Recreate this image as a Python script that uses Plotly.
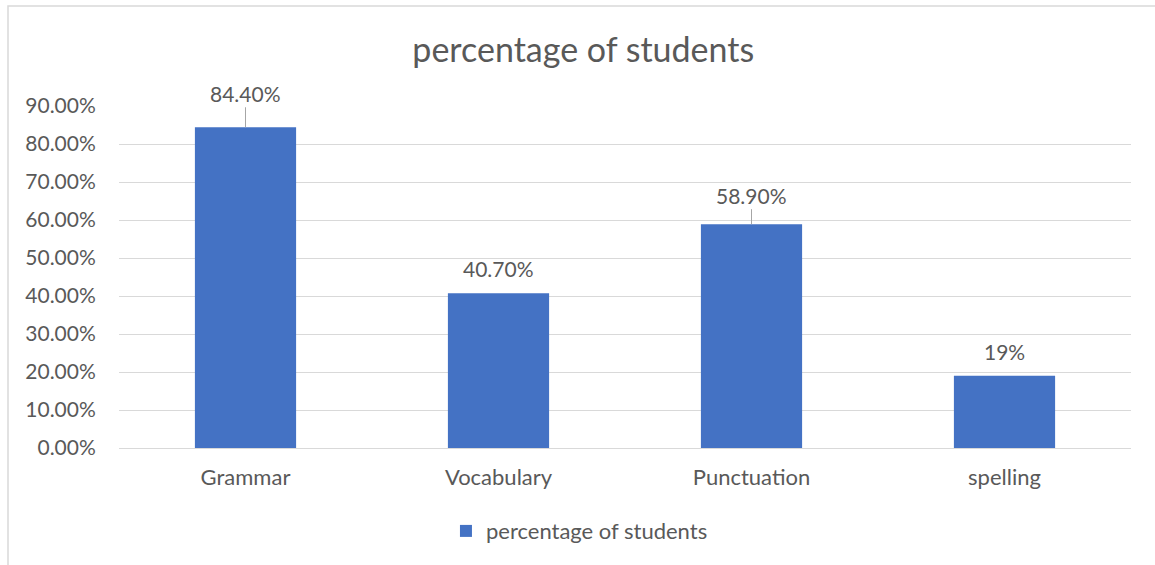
import plotly.graph_objects as go

categories = ["Grammar", "Vocabulary", "Punctuation", "spelling"]
values = [0.844, 0.407, 0.589, 0.19]
value_labels = ["84.40%", "40.70%", "58.90%", "19%"]
label_offsets = [34, 25, 29, 24]   # px above bar top
leader_lines = [True, False, True, False]
series_name = "percentage of students"
y_ticks = [0, 0.1, 0.2, 0.3, 0.4, 0.5, 0.6, 0.7, 0.8, 0.9]
y_tick_labels = ["0.00%", "10.00%", "20.00%", "30.00%", "40.00%", "50.00%",
                 "60.00%", "70.00%", "80.00%", "90.00%"]

FONT = "Lato"
TXT = "#595959"
BAR = "#4472C4"
GRID = "#d9d9d9"

fig = go.Figure()
fig.add_trace(go.Bar(
    x=categories, y=values, name=series_name,
    marker=dict(color=BAR, line=dict(width=0)),
    width=0.4, showlegend=True,
))

annotations = []
for c, v, t, off, lead in zip(categories, values, value_labels, label_offsets, leader_lines):
    if lead:
        annotations.append(dict(
            x=c, y=v, xref="x", yref="y", text=t, showarrow=True,
            arrowhead=0, arrowwidth=1, arrowcolor="#a6a6a6",
            ax=0, ay=-off, font=dict(family=FONT, size=21, color=TXT),
        ))
    else:
        annotations.append(dict(
            x=c, y=v, xref="x", yref="y", text=t, showarrow=False,
            yshift=off, font=dict(family=FONT, size=21, color=TXT),
        ))

fig.update_layout(
    width=1155, height=565,
    margin=dict(l=119, r=24, t=106, b=117),
    paper_bgcolor="white", plot_bgcolor="white",
    font=dict(family=FONT, size=21, color=TXT),
    title=dict(text="percentage of students", x=0.505, xanchor="center",
               y=0.912, yanchor="middle",
               font=dict(family=FONT, size=34, color=TXT)),
    bargap=0.6,
    showlegend=True,
    legend=dict(orientation="h", x=0.455, xanchor="center", y=-0.243, yanchor="middle",
                font=dict(family=FONT, size=22, color=TXT),
                itemsizing="constant", itemwidth=30),
    annotations=annotations,
    shapes=[dict(type="rect", xref="paper", yref="paper",
                 x0=(8 - 119) / 1012, x1=(1180 - 119) / 1012,
                 y0=(448 - 590) / 342, y1=(448 - 6) / 342,
                 line=dict(color=GRID, width=1.5), fillcolor="rgba(0,0,0,0)",
                 layer="below")],
    xaxis=dict(showgrid=False, showline=True, linecolor=GRID, linewidth=1,
               ticks="outside", ticklen=10, tickcolor="rgba(0,0,0,0)",
               tickfont=dict(family=FONT, size=22, color=TXT)),
    yaxis=dict(range=[0, 0.9], tickvals=y_ticks, ticktext=y_tick_labels,
               showgrid=True, gridcolor=GRID, gridwidth=1, zeroline=False,
               showline=False, ticks="outside", ticklen=18,
               tickcolor="rgba(0,0,0,0)",
               tickfont=dict(family=FONT, size=21, color=TXT)),
)

fig.write_html("out.html", config={"displayModeBar": False},
               post_script="document.body.style.margin='0';")
